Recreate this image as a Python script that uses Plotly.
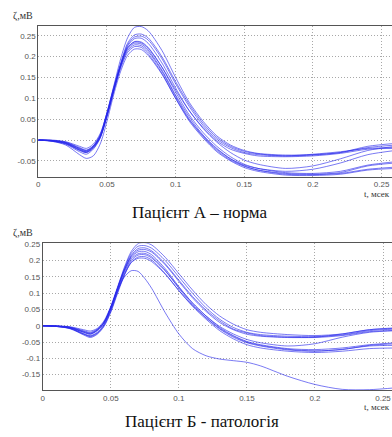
import plotly.graph_objects as go

# shared time grid (seconds shown as "мсек" in original)
t = [0, 0.01, 0.02, 0.03, 0.035, 0.04, 0.045, 0.05, 0.055, 0.06, 0.065, 0.07, 0.075,
     0.08, 0.09, 0.1, 0.11, 0.12, 0.13, 0.14, 0.15, 0.16, 0.18, 0.2, 0.22, 0.24, 0.26]

# Patient A (norm)
a1 = [0, 0, -0.004, -0.015, -0.02, -0.01, 0.015, 0.065, 0.13, 0.195, 0.245, 0.27, 0.272, 0.262, 0.215, 0.15, 0.09, 0.045, 0.01, -0.012, -0.025, -0.032, -0.036, -0.035, -0.03, -0.018, -0.012]
a2 = [0, -0.001, -0.005, -0.018, -0.024, -0.014, 0.01, 0.06, 0.125, 0.185, 0.232, 0.252, 0.254, 0.245, 0.2, 0.14, 0.085, 0.04, 0.006, -0.015, -0.027, -0.033, -0.038, -0.036, -0.03, -0.015, -0.008]
a3 = [0, -0.001, -0.006, -0.02, -0.026, -0.016, 0.008, 0.058, 0.12, 0.18, 0.228, 0.247, 0.249, 0.24, 0.195, 0.135, 0.08, 0.035, 0.002, -0.018, -0.03, -0.035, -0.038, -0.034, -0.028, -0.02, -0.018]
a4 = [0, -0.002, -0.007, -0.022, -0.028, -0.018, 0.006, 0.055, 0.118, 0.178, 0.225, 0.243, 0.244, 0.232, 0.185, 0.125, 0.07, 0.028, -0.005, -0.03, -0.048, -0.058, -0.068, -0.062, -0.045, -0.025, -0.015]
a5 = [0, -0.002, -0.008, -0.024, -0.03, -0.02, 0.005, 0.06, 0.12, 0.178, 0.22, 0.236, 0.235, 0.222, 0.175, 0.115, 0.06, 0.018, -0.015, -0.04, -0.058, -0.068, -0.078, -0.08, -0.075, -0.06, -0.052]
a6 = [0, -0.002, -0.008, -0.023, -0.028, -0.016, 0.01, 0.065, 0.125, 0.18, 0.218, 0.232, 0.23, 0.216, 0.168, 0.108, 0.055, 0.012, -0.02, -0.045, -0.062, -0.072, -0.082, -0.083, -0.08, -0.07, -0.065]
a7 = [0, -0.002, -0.009, -0.025, -0.03, -0.018, 0.008, 0.062, 0.122, 0.176, 0.214, 0.228, 0.226, 0.212, 0.165, 0.105, 0.05, 0.01, -0.022, -0.045, -0.06, -0.068, -0.075, -0.07, -0.055, -0.035, -0.025]
a8 = [0, -0.003, -0.01, -0.028, -0.034, -0.022, 0.004, 0.058, 0.118, 0.172, 0.21, 0.224, 0.222, 0.207, 0.16, 0.1, 0.045, 0.005, -0.028, -0.05, -0.066, -0.075, -0.084, -0.085, -0.082, -0.072, -0.068]
a9 = [0, -0.003, -0.012, -0.035, -0.044, -0.038, -0.01, 0.045, 0.11, 0.165, 0.203, 0.218, 0.217, 0.203, 0.158, 0.1, 0.048, 0.008, -0.025, -0.048, -0.063, -0.072, -0.08, -0.082, -0.078, -0.062, -0.055]
a10 = [0, -0.001, -0.006, -0.02, -0.025, -0.014, 0.012, 0.066, 0.128, 0.182, 0.222, 0.235, 0.233, 0.22, 0.175, 0.12, 0.07, 0.03, -0.002, -0.022, -0.032, -0.038, -0.04, -0.038, -0.032, -0.022, -0.02]
patient_a = [a1, a2, a3, a4, a5, a6, a7, a8, a9, a10]

# Patient B (pathology)
b1 = [0, 0, -0.003, -0.012, -0.016, -0.008, 0.015, 0.06, 0.12, 0.18, 0.228, 0.252, 0.255, 0.248, 0.21, 0.16, 0.11, 0.065, 0.03, 0.005, -0.012, -0.02, -0.027, -0.03, -0.025, -0.012, -0.006]
b2 = [0, -0.001, -0.004, -0.015, -0.02, -0.01, 0.012, 0.058, 0.118, 0.176, 0.222, 0.244, 0.246, 0.238, 0.2, 0.15, 0.1, 0.055, 0.02, -0.005, -0.02, -0.027, -0.032, -0.033, -0.028, -0.015, -0.01]
b3 = [0, -0.001, -0.005, -0.017, -0.022, -0.012, 0.01, 0.055, 0.115, 0.172, 0.216, 0.237, 0.239, 0.23, 0.19, 0.14, 0.09, 0.048, 0.015, -0.01, -0.022, -0.03, -0.035, -0.036, -0.03, -0.018, -0.014]
b4 = [0, -0.001, -0.006, -0.02, -0.026, -0.015, 0.008, 0.055, 0.115, 0.17, 0.21, 0.227, 0.228, 0.218, 0.175, 0.12, 0.07, 0.03, -0.002, -0.025, -0.042, -0.052, -0.062, -0.055, -0.035, -0.02, -0.015]
b5 = [0, -0.002, -0.007, -0.024, -0.03, -0.02, 0.004, 0.05, 0.11, 0.165, 0.205, 0.221, 0.222, 0.212, 0.17, 0.115, 0.065, 0.025, -0.008, -0.032, -0.05, -0.06, -0.072, -0.077, -0.073, -0.06, -0.055]
b6 = [0, -0.002, -0.008, -0.026, -0.033, -0.024, 0.0, 0.045, 0.105, 0.16, 0.2, 0.217, 0.218, 0.208, 0.168, 0.118, 0.07, 0.03, -0.005, -0.03, -0.048, -0.058, -0.07, -0.073, -0.068, -0.058, -0.052]
b7 = [0, -0.002, -0.009, -0.028, -0.036, -0.026, -0.002, 0.042, 0.1, 0.155, 0.195, 0.211, 0.212, 0.202, 0.16, 0.108, 0.06, 0.02, -0.015, -0.04, -0.058, -0.068, -0.078, -0.082, -0.078, -0.07, -0.068]
b8 = [0, -0.002, -0.008, -0.025, -0.032, -0.022, 0.003, 0.048, 0.105, 0.157, 0.194, 0.207, 0.207, 0.197, 0.158, 0.108, 0.062, 0.024, -0.01, -0.035, -0.052, -0.062, -0.074, -0.078, -0.072, -0.062, -0.06]
b9 = [0, -0.001, -0.005, -0.018, -0.024, -0.013, 0.01, 0.056, 0.116, 0.172, 0.213, 0.232, 0.234, 0.226, 0.187, 0.136, 0.086, 0.044, 0.01, -0.012, -0.026, -0.032, -0.036, -0.035, -0.025, -0.012, -0.008]
b10 = [0, -0.001, -0.006, -0.02, -0.025, -0.014, 0.01, 0.055, 0.11, 0.15, 0.169, 0.167, 0.145, 0.115, 0.04, -0.025, -0.07, -0.092, -0.102, -0.107, -0.112, -0.123, -0.155, -0.18, -0.195, -0.196, -0.19]
patient_b = [b1, b2, b3, b4, b5, b6, b7, b8, b9, b10]

x_ticks = [0, 0.05, 0.1, 0.15, 0.2, 0.25]
x_ticktext = ["0", "0.05", "0.1", "0.15", "0.2", "0.25"]
ya_ticks = [-0.05, 0, 0.05, 0.1, 0.15, 0.2, 0.25]
ya_ticktext = ["-0.05", "0", "0.05", "0.1", "0.15", "0.2", "0.25"]
yb_ticks = [-0.15, -0.1, -0.05, 0, 0.05, 0.1, 0.15, 0.2, 0.25]
yb_ticktext = ["-0.15", "-0.1", "-0.05", "0", "0.05", "0.1", "0.15", "0.2", "0.25"]

title_a = "Пацієнт А – норма"
title_b = "Пацієнт Б - патологія"
y_label = "ζ,мВ"
x_label = "t, мсек"

W, H = 392, 437
line_color = "rgba(40,40,235,0.62)"

fig = go.Figure()
for s in patient_a:
    fig.add_trace(go.Scatter(x=t, y=s, mode="lines", xaxis="x", yaxis="y",
                             line=dict(color=line_color, width=1, shape="spline", smoothing=0.8),
                             showlegend=False, hoverinfo="skip"))
for s in patient_b:
    fig.add_trace(go.Scatter(x=t, y=s, mode="lines", xaxis="x2", yaxis="y2",
                             line=dict(color=line_color, width=1, shape="spline", smoothing=0.8),
                             showlegend=False, hoverinfo="skip"))

tickfont = dict(family="Liberation Sans, Arial", size=8, color="#555")
grid_dash = "1px,2px"
common_x = dict(tickvals=x_ticks, ticktext=x_ticktext, showgrid=True, gridcolor="#a8a8a8",
                griddash=grid_dash, gridwidth=1, showline=True, linecolor="#555", linewidth=1,
                mirror=True, ticks="", zeroline=False, tickfont=tickfont, ticklen=0)
common_y = dict(showgrid=True, gridcolor="#a8a8a8", griddash=grid_dash, gridwidth=1,
                showline=True, linecolor="#555", linewidth=1, ticks="", zeroline=False,
                tickfont=tickfont)

def px(xp):
    return xp / W

def py(yp):
    return 1 - yp / H

fig.update_layout(
    width=W, height=H, margin=dict(l=0, r=0, t=0, b=0),
    paper_bgcolor="white", plot_bgcolor="white",
    xaxis=dict(domain=[px(36.5), 1], range=[0, 0.2576], anchor="y", **common_x),
    yaxis=dict(domain=[py(175), py(23)], range=[-0.0881, 0.2738], anchor="x",
               tickvals=ya_ticks, ticktext=ya_ticktext, **common_y),
    xaxis2=dict(domain=[px(41), 1], range=[0, 0.2566], anchor="y2", **common_x),
    yaxis2=dict(domain=[py(390), py(242)], range=[-0.198, 0.253], anchor="x2",
                tickvals=yb_ticks, ticktext=yb_ticktext, **common_y),
)

serif = "Liberation Serif, Times New Roman"
ann = [
    dict(text=title_a, x=px(199), y=py(211), size=17),
    dict(text=title_b, x=px(201), y=py(421), size=17),
]
for a in ann:
    fig.add_annotation(text=a["text"], x=a["x"], y=a["y"], xref="paper", yref="paper",
                       showarrow=False, xanchor="center", yanchor="middle",
                       font=dict(family=serif, size=a["size"], color="#111"))

for yy in (13, 232):
    fig.add_annotation(text=y_label, x=px(9), y=py(yy), xref="paper", yref="paper",
                       showarrow=False, xanchor="left", yanchor="middle",
                       font=dict(family=serif, size=10, color="#333"))
for yy in (192, 407):
    fig.add_annotation(text=x_label, x=1, y=py(yy), xref="paper", yref="paper",
                       showarrow=False, xanchor="right", yanchor="middle",
                       font=dict(family=serif, size=9, color="#333"))

fig.write_html("out.html", config={"displayModeBar": False},
               post_script="document.body.style.margin='0';document.body.style.overflow='hidden';")
